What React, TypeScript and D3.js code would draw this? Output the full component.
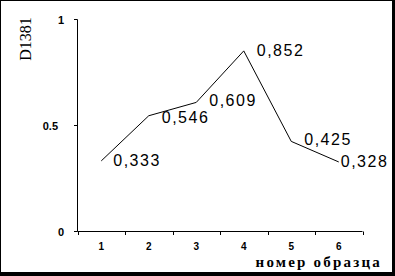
import React, { useEffect, useRef } from 'react';
import * as d3 from 'd3';

const samples = ['1', '2', '3', '4', '5', '6'];
const values = [0.333, 0.546, 0.609, 0.852, 0.425, 0.328];
const valueLabels = ['0,333', '0,546', '0,609', '0,852', '0,425', '0,328'];
const yTicks = [0, 0.5, 1];
const yTickLabels = ['0', '0.5', '1'];

// label offsets relative to the point (dx, baseline dy)
const labelOffsets: [number, number][] = [
  [12, 5], [13, 7], [13, 4], [13, 5], [13, 4], [2, 5],
];

export default function App() {
  const ref = useRef<SVGSVGElement>(null);

  useEffect(() => {
    const svg = d3.select(ref.current);
    svg.selectAll('*').remove();
    const W = 395, H = 276;

    svg.append('rect').attr('width', W).attr('height', H).attr('fill', '#fff');
    // frame with heavier right/bottom edge
    svg.append('rect').attr('x', 0.5).attr('y', 0.5).attr('width', 392).attr('height', 272)
      .attr('fill', 'none').attr('stroke', '#000');
    svg.append('rect').attr('x', 392).attr('y', 0).attr('width', 3).attr('height', H).attr('fill', '#000');
    svg.append('rect').attr('x', 0).attr('y', 272).attr('width', W).attr('height', 4).attr('fill', '#000');

    const x = d3.scaleBand().domain(samples).range([77.5, 362.5]);
    const y = d3.scaleLinear().domain([0, 1]).range([231.5, 19.5]);

    const g = svg.append('g');
    // axes
    g.append('line').attr('x1', 77.5).attr('x2', 77.5).attr('y1', y(1)).attr('y2', y(0)).attr('stroke', '#000');
    g.append('line').attr('x1', 77.5).attr('x2', 362.5).attr('y1', y(0)).attr('y2', y(0)).attr('stroke', '#000');

    yTicks.forEach((t, i) => {
      g.append('line').attr('x1', 74).attr('x2', 77.5).attr('y1', y(t)).attr('y2', y(t)).attr('stroke', '#000');
      g.append('text').attr('x', t === 0.5 ? 58 : 64).attr('y', y(t) + 4).attr('text-anchor', 'end')
        .attr('font-family', 'Liberation Sans, Arial, sans-serif').attr('font-size', 11).attr('font-weight', 'bold')
        .text(yTickLabels[i]);
    });

    const tickPos = samples.map((s) => (x(s) as number) + x.bandwidth());
    [77.5, ...tickPos].forEach((p) => {
      const px = Math.round(p) + 0.5;
      g.append('line').attr('x1', px).attr('x2', px).attr('y1', y(0)).attr('y2', y(0) + 3.5).attr('stroke', '#000');
    });
    samples.forEach((s) => {
      g.append('text').attr('x', (x(s) as number) + x.bandwidth() / 2).attr('y', 250).attr('text-anchor', 'middle')
        .attr('font-family', 'Liberation Sans, Arial, sans-serif').attr('font-size', 10).attr('font-weight', 'bold')
        .text(s);
    });

    const line = d3.line<number>()
      .x((_, i) => (x(samples[i]) as number) + x.bandwidth() / 2)
      .y((d) => y(d));
    g.append('path').attr('d', line(values)).attr('fill', 'none').attr('stroke', '#000').attr('stroke-width', 1);

    values.forEach((v, i) => {
      const px = (x(samples[i]) as number) + x.bandwidth() / 2;
      g.append('text').attr('x', px + labelOffsets[i][0]).attr('y', y(v) + labelOffsets[i][1])
        .attr('font-family', 'Liberation Sans, Arial, sans-serif').attr('font-size', 16)
        .attr('letter-spacing', 1.5)
        .text(valueLabels[i]);
    });

    // axis titles
    svg.append('text').attr('transform', 'translate(31,39) rotate(-90)').attr('text-anchor', 'middle')
      .attr('font-family', 'Liberation Serif, Times New Roman, serif').attr('font-size', 16)
      .text('D1381');
    svg.append('text').attr('x', 382).attr('y', 267).attr('text-anchor', 'end')
      .attr('font-family', 'Liberation Serif, Times New Roman, serif').attr('font-size', 15).attr('font-weight', 'bold')
      .attr('letter-spacing', 2.2)
      .text('номер образца');
  }, []);

  return (
    <svg ref={ref} width={395} height={276} style={{ position: 'absolute', left: 0, top: 0, display: 'block' }} />
  );
}
